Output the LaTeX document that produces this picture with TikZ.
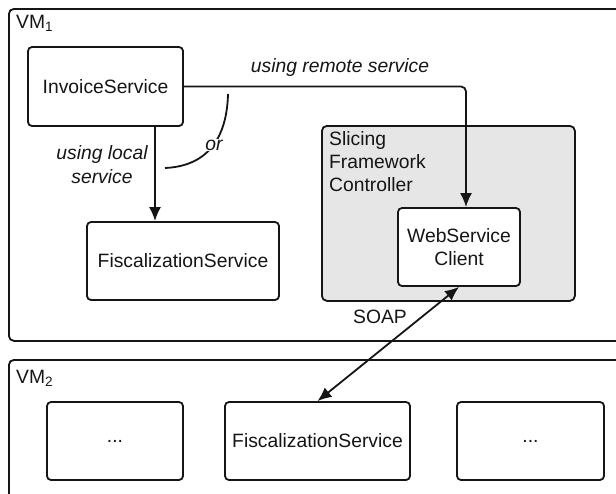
\documentclass[tikz,border=0pt]{standalone}
\usepackage{fontspec}
\setmainfont{Liberation Sans}
\usetikzlibrary{arrows.meta}
\definecolor{linec}{HTML}{151515}
\definecolor{greyfill}{HTML}{E6E6E6}
\tikzset{
  every node/.style={font=\fontsize{19.3}{23}\selectfont, text=linec},
  box/.style={draw=linec, line width=1.8pt, rounded corners=4pt, fill=white, inner sep=0pt, align=center},
  vmbox/.style={draw=linec, line width=1.8pt, rounded corners=5pt, inner sep=0pt},
  ctrlbox/.style={draw=linec, line width=1.8pt, rounded corners=5pt, fill=greyfill, inner sep=0pt},
  arr/.style={draw=linec, line width=1.8pt, -{Latex[length=14pt,width=12pt]}},
  dblarr/.style={draw=linec, line width=1.8pt, {Latex[length=14pt,width=12pt]}-{Latex[length=14pt,width=12pt]}},
  lbl/.style={inner sep=1pt, align=center},
}
\begin{document}
\begin{tikzpicture}[x=1pt,y=-1pt]
\useasboundingbox (0,0) rectangle (616,493);
% VM boxes
\node[vmbox, minimum width=640pt, minimum height=332pt, anchor=north west] (vm1) at (8,8) {};
\node[vmbox, minimum width=640pt, minimum height=160pt, anchor=north west] (vm2) at (8,359) {};
\node[lbl, anchor=west] (vm1l) at (15,23) {VM\textsubscript{1}};
\node[lbl, anchor=west] (vm2l) at (15,378) {VM\textsubscript{2}};
% VM1 content
\node[box, minimum width=155pt, minimum height=79pt] (inv) at (105.5,86.5) {InvoiceService};
\node[box, minimum width=192pt, minimum height=78pt] (fisc1) at (183,261) {FiscalizationService};
\node[ctrlbox, minimum width=253pt, minimum height=175pt, anchor=north west] (ctrl) at (321,125) {};
\node[lbl, anchor=north west, align=left] (ctrll) at (328,130) {Slicing\\Framework\\Controller};
\node[box, minimum width=122pt, minimum height=78pt] (wsc) at (459,247) {WebService\\Client};
% VM2 content
\node[box, minimum width=136pt, minimum height=78pt] (d1) at (115,441) {...};
\node[box, minimum width=185pt, minimum height=78pt] (fisc2) at (317.5,441) {FiscalizationService};
\node[box, minimum width=147pt, minimum height=78pt] (d2) at (530.5,441) {...};
% connectors
\coordinate (lx) at (155,0);
\coordinate (rx) at (466,0);
\draw[arr] (lx |- inv.south) -- (lx |- fisc1.north);
\draw[arr, rounded corners=5pt] (inv.east) -- (inv.east -| rx) -- (rx |- wsc.north);
\draw[dblarr] (fisc2.north) -- (wsc.south);
% labels
\node[lbl, font=\fontsize{19.3}{23}\selectfont\itshape] (remote) at (340,68) {using remote service};
\node[lbl, font=\fontsize{19.3}{24}\selectfont\itshape] (local) at (102,165) {using local\\service};
\coordinate (orA) at (228,94);
\coordinate (orB) at (165,168);
\draw[draw=linec, line width=1.8pt] (orA) .. controls (227,135) and (210,166) .. (orB);
\node[lbl, fill=white, inner sep=1pt, font=\fontsize{19.3}{23}\selectfont\itshape] (or) at (214,145) {or};
\node[lbl] (soap) at (380,317) {SOAP};
\end{tikzpicture}
\end{document}
